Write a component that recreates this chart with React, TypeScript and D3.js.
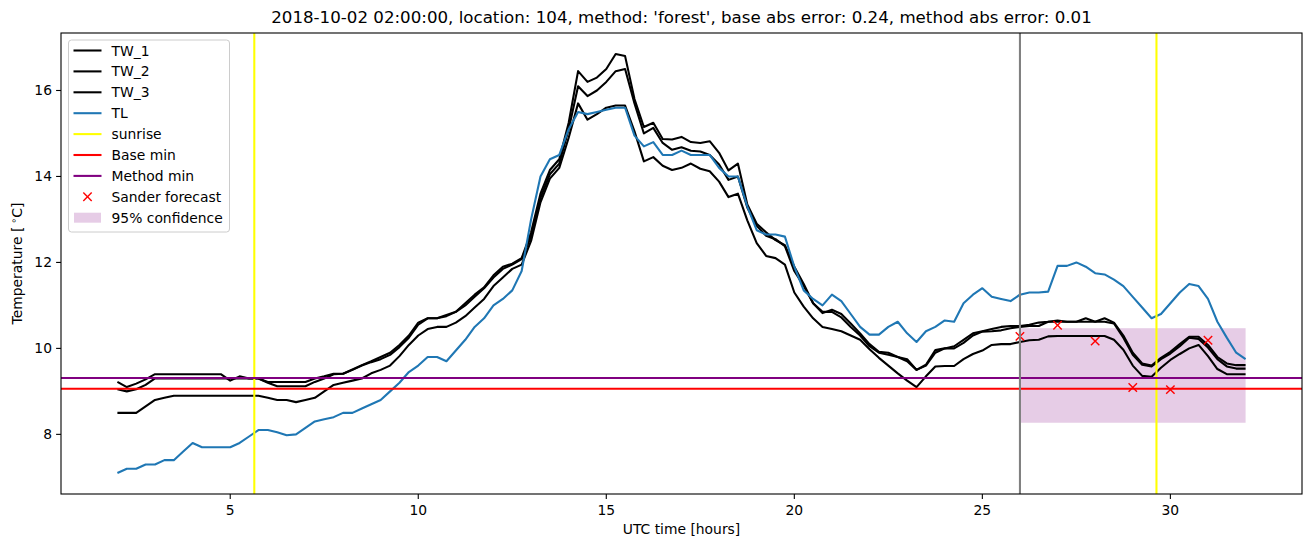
import React from "react";
import * as d3 from "d3";

// ---- data ----
const hours: number[] = d3.range(0, 121).map((i) => 2 + i * 0.25);

const tw1: number[] = [
  9.22, 9.1, 9.18, 9.28, 9.4, 9.4, 9.4, 9.4, 9.4, 9.4, 9.4, 9.4, 9.25, 9.35, 9.3, 9.3,
  9.22, 9.22, 9.22, 9.22, 9.22, 9.3, 9.35, 9.41, 9.41, 9.51, 9.61, 9.7, 9.8, 9.9, 10.08, 10.3,
  10.6, 10.7, 10.7, 10.78, 10.85, 11.05, 11.25, 11.42, 11.7, 11.9, 11.97, 12.1, 12.7, 13.6, 14.15, 14.4,
  15.25, 16.45, 16.2, 16.3, 16.5, 16.85, 16.8, 15.8, 15.15, 15.25, 14.87, 14.86, 14.92, 14.8, 14.78, 14.82,
  14.55, 14.14, 14.3, 13.35, 12.9, 12.7, 12.52, 12.4, 11.9, 11.5, 11.05, 10.82, 10.9, 10.8, 10.58, 10.35,
  10.1, 9.92, 9.9, 9.8, 9.75, 9.5, 9.62, 9.96, 10.0, 10.05, 10.2, 10.35, 10.4, 10.45, 10.5, 10.52,
  10.52, 10.55, 10.6, 10.62, 10.65, 10.62, 10.62, 10.7, 10.62, 10.7, 10.6, 10.3, 9.9, 9.65, 9.6, 9.78,
  9.92, 10.1, 10.27, 10.27, 10.08, 9.8, 9.65, 9.61, 9.61,
];

const tw2: number[] = [
  9.05, 9.0, 9.05, 9.15, 9.3, 9.3, 9.3, 9.3, 9.3, 9.3, 9.3, 9.3, 9.3, 9.3, 9.3, 9.3,
  9.2, 9.12, 9.12, 9.12, 9.12, 9.22, 9.3, 9.4, 9.41, 9.5, 9.6, 9.68, 9.75, 9.85, 10.03, 10.25,
  10.55, 10.7, 10.7, 10.75, 10.85, 11.0, 11.2, 11.4, 11.65, 11.85, 11.95, 12.08, 12.6, 13.5, 14.05, 14.3,
  15.1, 16.1, 15.87, 16.0, 16.2, 16.45, 16.5, 15.7, 15.0, 15.13, 14.78, 14.62, 14.68, 14.6, 14.58, 14.5,
  14.28, 13.92, 14.0, 13.28, 12.85, 12.62, 12.54, 12.38, 11.8, 11.45, 11.05, 10.85, 10.85, 10.72, 10.5, 10.3,
  10.05, 9.9, 9.85, 9.8, 9.7, 9.5, 9.6, 9.9, 10.0, 10.0, 10.13, 10.3, 10.39, 10.4, 10.42, 10.47,
  10.5, 10.52, 10.52, 10.62, 10.62, 10.62, 10.62, 10.62, 10.62, 10.62, 10.58, 10.25, 9.85, 9.62, 9.58, 9.75,
  9.88, 10.05, 10.25, 10.22, 10.02, 9.75, 9.58, 9.53, 9.53,
];

const tw3: number[] = [
  8.5, 8.5, 8.5, 8.65, 8.8, 8.85, 8.9, 8.9, 8.9, 8.9, 8.9, 8.9, 8.9, 8.9, 8.9, 8.9,
  8.85, 8.8, 8.8, 8.75, 8.8, 8.85, 9.0, 9.15, 9.2, 9.25, 9.3, 9.42, 9.5, 9.6, 9.82, 10.08,
  10.3, 10.45, 10.5, 10.5, 10.6, 10.75, 10.95, 11.15, 11.45, 11.65, 11.85, 11.95, 12.5, 13.4, 13.95, 14.2,
  14.9, 15.7, 15.32, 15.45, 15.6, 15.65, 15.65, 15.05, 14.35, 14.45, 14.25, 14.15, 14.2, 14.3, 14.18, 14.12,
  13.88, 13.52, 13.6, 12.98, 12.45, 12.15, 12.1, 11.95, 11.3, 10.97, 10.7, 10.5, 10.45, 10.4, 10.3, 10.2,
  9.98, 9.78, 9.6, 9.42, 9.25, 9.1, 9.35, 9.58, 9.59, 9.59, 9.75, 9.87, 9.95, 10.08, 10.1, 10.1,
  10.15, 10.19, 10.2, 10.28, 10.29, 10.29, 10.29, 10.29, 10.29, 10.29, 10.2, 9.97, 9.6, 9.36, 9.34, 9.55,
  9.73, 9.87, 10.0, 10.08, 9.82, 9.52, 9.4, 9.4, 9.4,
];

const tl: number[] = [
  7.1, 7.2, 7.2, 7.3, 7.3, 7.4, 7.4, 7.6, 7.8, 7.7, 7.7, 7.7, 7.7, 7.8, 7.95, 8.1,
  8.1, 8.05, 7.98, 8.0, 8.15, 8.3, 8.35, 8.4, 8.5, 8.5, 8.6, 8.7, 8.8, 9.0, 9.2, 9.45,
  9.6, 9.8, 9.8, 9.7, 9.95, 10.2, 10.5, 10.7, 11.0, 11.15, 11.35, 11.8, 13.0, 14.0, 14.4, 14.5,
  15.1, 15.5, 15.45, 15.5, 15.55, 15.6, 15.6, 14.95, 14.7, 14.8, 14.5, 14.5, 14.6, 14.5, 14.5, 14.5,
  14.2, 14.0, 14.0, 13.3, 12.75, 12.65, 12.65, 12.6, 11.9, 11.35, 11.15, 11.0, 11.25, 11.1, 10.8, 10.5,
  10.32, 10.32, 10.5, 10.62, 10.35, 10.15, 10.4, 10.5, 10.65, 10.62, 11.05, 11.25, 11.4, 11.2, 11.15, 11.1,
  11.25, 11.3, 11.3, 11.32, 11.92, 11.92, 12.0, 11.9, 11.75, 11.72, 11.6, 11.45, 11.2, 10.95, 10.7, 10.8,
  11.05, 11.3, 11.5, 11.45, 11.15, 10.62, 10.25, 9.9, 9.75,
];

const sunriseHours: number[] = [5.64, 29.63];
const forecastStart = 26;
const forecastEnd = 32;
const baseMin = 9.06;
const methodMin = 9.31;
const confLow = 8.27;
const confHigh = 10.47;
const sanderHours: number[] = [26, 27, 28, 29, 30, 31];
const sanderValues: number[] = [10.28, 10.54, 10.17, 9.09, 9.04, 10.19];

const xTicks: number[] = [5, 10, 15, 20, 25, 30];
const yTicks: number[] = [8, 10, 12, 14, 16];

const title =
  "2018-10-02 02:00:00, location: 104, method: 'forest', base abs error: 0.24, method abs error: 0.01";

const legendItems: { label: string; kind: string; color: string }[] = [
  { label: "TW_1", kind: "line", color: "#000000" },
  { label: "TW_2", kind: "line", color: "#000000" },
  { label: "TW_3", kind: "line", color: "#000000" },
  { label: "TL", kind: "line", color: "#1f77b4" },
  { label: "sunrise", kind: "line", color: "#ffff00" },
  { label: "Base min", kind: "line", color: "#ff0000" },
  { label: "Method min", kind: "line", color: "#800080" },
  { label: "Sander forecast", kind: "x", color: "#ff0000" },
  { label: "95% confidence", kind: "rect", color: "#800080" },
];

// ---- layout ----
const W = 1311;
const H = 547;
const L = 61;
const R = 1302;
const T = 33;
const B = 494;
const FONT = "'DejaVu Sans', sans-serif";

export default function App() {
  const allY = [...tw1, ...tw2, ...tw3, ...tl, confLow, confHigh];
  const yMin = d3.min(allY) as number;
  const yMax = d3.max(allY) as number;
  const yPad = (yMax - yMin) * 0.05;
  const xPad = (forecastEnd - 2) * 0.05;

  const x = d3.scaleLinear().domain([2 - xPad, forecastEnd + xPad]).range([L, R]);
  const y = d3.scaleLinear().domain([yMin - yPad, yMax + yPad]).range([B, T]);

  const line = d3
    .line<number>()
    .x((_, i) => x(hours[i]))
    .y((d) => y(d));

  const lw = 2.08;
  const markerHalf = 4.2;

  const xMark = (cx: number, cy: number, key: string | number, color: string) => (
    <g key={key} stroke={color} strokeWidth={1.4}>
      <line x1={cx - markerHalf} y1={cy - markerHalf} x2={cx + markerHalf} y2={cy + markerHalf} />
      <line x1={cx - markerHalf} y1={cy + markerHalf} x2={cx + markerHalf} y2={cy - markerHalf} />
    </g>
  );

  const legX = 68.5;
  const legY = 40;
  const legW = 161;
  const legH = 192;
  const rowH = 20.9;
  const row0 = 50.5;

  return (
    <svg width={W} height={H} style={{ display: "block", position: "absolute", left: 0, top: 0 }} fontFamily={FONT}>
      <rect x={0} y={0} width={W} height={H} fill="#ffffff" />
      <defs>
        <clipPath id="plotclip">
          <rect x={L} y={T} width={R - L} height={B - T} />
        </clipPath>
      </defs>
      <text x={(L + R) / 2} y={23} textAnchor="middle" fontSize={16.67} fill="#000">
        {title}
      </text>
      <g clipPath="url(#plotclip)">
        <rect
          x={x(forecastStart)}
          y={y(confHigh)}
          width={x(forecastEnd) - x(forecastStart)}
          height={y(confLow) - y(confHigh)}
          fill="#800080"
          fillOpacity={0.2}
        />
        {[tw1, tw2, tw3].map((s, i) => (
          <path key={i} d={line(s) || ""} fill="none" stroke="#000" strokeWidth={lw} strokeLinejoin="round" />
        ))}
        <path d={line(tl) || ""} fill="none" stroke="#1f77b4" strokeWidth={lw} strokeLinejoin="round" />
        {sunriseHours.map((h, i) => (
          <line key={i} x1={x(h)} x2={x(h)} y1={T} y2={B} stroke="#ffff00" strokeWidth={lw} />
        ))}
        <line x1={L} x2={R} y1={y(baseMin)} y2={y(baseMin)} stroke="#ff0000" strokeWidth={lw} />
        <line x1={L} x2={R} y1={y(methodMin)} y2={y(methodMin)} stroke="#800080" strokeWidth={lw} />
        {sanderHours.map((h, i) => xMark(x(h), y(sanderValues[i]), i, "#ff0000"))}
        <line x1={x(forecastStart)} x2={x(forecastStart)} y1={T} y2={B} stroke="#808080" strokeWidth={lw} />
      </g>
      {/* spines */}
      <rect x={L} y={T} width={R - L} height={B - T} fill="none" stroke="#000" strokeWidth={1.1} />
      {/* x ticks */}
      {xTicks.map((t) => (
        <g key={t}>
          <line x1={x(t)} x2={x(t)} y1={B} y2={B + 4.9} stroke="#000" strokeWidth={1.1} />
          <text x={x(t)} y={B + 20.5} textAnchor="middle" fontSize={13.89} fill="#000">
            {t}
          </text>
        </g>
      ))}
      {yTicks.map((t) => (
        <g key={t}>
          <line x1={L - 4.9} x2={L} y1={y(t)} y2={y(t)} stroke="#000" strokeWidth={1.1} />
          <text x={L - 9} y={y(t) + 5} textAnchor="end" fontSize={13.89} fill="#000">
            {t}
          </text>
        </g>
      ))}
      <text x={(L + R) / 2} y={534} textAnchor="middle" fontSize={13.89} fill="#000">
        UTC time [hours]
      </text>
      <text transform={`translate(22, ${(T + B) / 2}) rotate(-90)`} textAnchor="middle" fontSize={13.89} fill="#000">
        Temperature [<tspan dx={3} dy={-5} fontSize={9.5}>∘</tspan>
        <tspan dy={5}>C]</tspan>
      </text>
      {/* legend */}
      <rect x={legX} y={legY} width={legW} height={legH} rx={3} ry={3} fill="#ffffff" fillOpacity={0.8} stroke="#cccccc" strokeWidth={1} />
      {legendItems.map((it, i) => {
        const cy = row0 + i * rowH;
        let handle: React.ReactNode = null;
        if (it.kind === "line") {
          handle = <line x1={73.5} x2={101.5} y1={cy} y2={cy} stroke={it.color} strokeWidth={lw} />;
        } else if (it.kind === "x") {
          handle = xMark(87.5, cy, "m", it.color);
        } else {
          handle = <rect x={74} y={cy - 5} width={27} height={10} fill={it.color} fillOpacity={0.2} />;
        }
        return (
          <g key={it.label}>
            {handle}
            <text x={111.5} y={cy + 5} fontSize={13.89} fill="#000">
              {it.label}
            </text>
          </g>
        );
      })}
    </svg>
  );
}
